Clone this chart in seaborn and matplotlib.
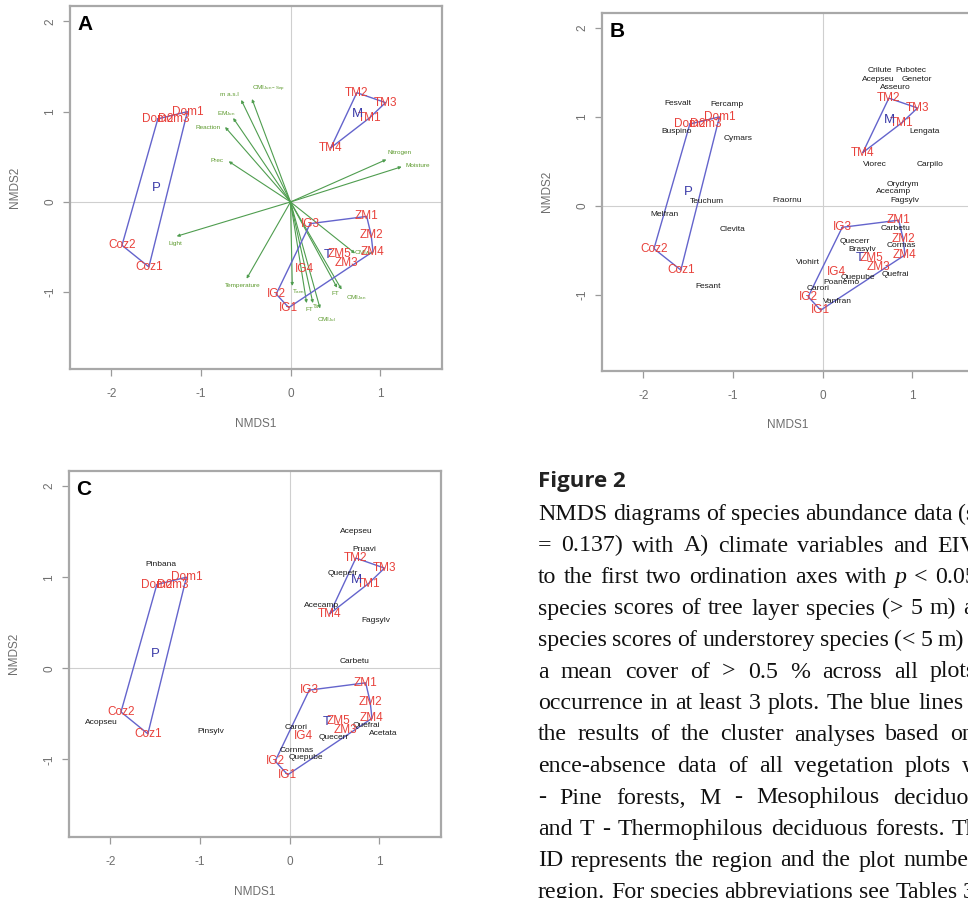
import matplotlib
matplotlib.use("Agg")
import matplotlib.pyplot as plt
import numpy as np
import pandas as pd
import seaborn as sns

# site scores (shared by all three NMDS panels)
site_names = ["Dom1", "Dom2", "Dom3", "Coz1", "Coz2",
              "TM1", "TM2", "TM3", "TM4",
              "ZM1", "ZM2", "ZM3", "ZM4", "ZM5",
              "IG1", "IG2", "IG3", "IG4"]
site_x = [-1.15, -1.48, -1.30, -1.58, -1.88,
          0.88, 0.74, 1.06, 0.45,
          0.85, 0.90, 0.62, 0.92, 0.55,
          -0.02, -0.16, 0.22, 0.15]
site_y = [1.00, 0.92, 0.92, -0.72, -0.48,
          0.93, 1.21, 1.10, 0.60,
          -0.16, -0.37, -0.68, -0.55, -0.58,
          -1.17, -1.02, -0.24, -0.74]

# cluster hulls (vertex order)
hull_P = ["Dom2", "Coz2", "Coz1", "Dom1"]
hull_M = ["TM4", "TM2", "TM3", "TM1"]
hull_T = ["IG3", "ZM1", "ZM2", "ZM4", "IG1", "IG2"]
group_names = ["P", "M", "T"]
group_x = [-1.50, 0.75, 0.42]
group_y = [0.16, 0.97, -0.59]

# panel A: fitted environmental vectors
env_labels = ["m a.s.l", "CMI$_{Jun-Sep}$", "EM$_{Jun}$", "Reaction", "Prec", "Light",
              "Temperature", "Nitrogen", "Moisture", "T$_{ann}$", "FT", "CMI$_{Jan}$",
              "FT", "Ts", "CMI$_{Jul}$", "CMI$_{Apr}$"]
env_x = [-0.55, -0.43, -0.64, -0.73, -0.69, -1.27, -0.49, 1.07, 1.24, 0.02, 0.52, 0.57,
         0.18, 0.25, 0.33, 0.72]
env_y = [1.13, 1.14, 0.93, 0.83, 0.45, -0.38, -0.85, 0.47, 0.39, -0.93, -0.95, -0.97,
         -1.12, -1.12, -1.18, -0.57]
env_lab_x = [-0.68, -0.25, -0.72, -0.92, -0.82, -1.28, -0.53, 1.22, 1.42, 0.09, 0.50, 0.73,
             0.21, 0.29, 0.40, 0.82]
env_lab_y = [1.19, 1.25, 0.98, 0.83, 0.46, -0.46, -0.92, 0.55, 0.40, -0.99, -1.01, -1.06,
             -1.19, -1.16, -1.30, -0.57]

# panel B: tree layer species scores
b_species = ["Crilute", "Pubotec", "Acepseu", "Genetor", "Asseuro", "Lengata", "Viorec",
             "Carpilo", "Orydrym", "Acecamp", "Fagsylv", "Teuchum", "Fraornu", "Fesvalt",
             "Fercamp", "Buspino", "Cymars", "Melfran", "Clevita", "Fesant", "Carbetu",
             "Quecerr", "Brasylv", "Cormas", "Viohirt", "Quepube", "Quefrai", "Poanemo",
             "Carori", "Vanfran"]
b_x = [0.64, 0.99, 0.62, 1.05, 0.81, 1.14, 0.58, 1.20, 0.90, 0.79, 0.92, -1.29, -0.40,
       -1.61, -1.07, -1.63, -0.94, -1.76, -1.00, -1.28, 0.81, 0.36, 0.44, 0.88, -0.16,
       0.40, 0.81, 0.21, -0.05, 0.17]
b_y = [1.52, 1.52, 1.42, 1.42, 1.33, 0.84, 0.47, 0.47, 0.24, 0.16, 0.06, 0.05, 0.06,
       1.15, 1.14, 0.84, 0.76, -0.10, -0.27, -0.90, -0.25, -0.40, -0.49, -0.44, -0.64,
       -0.80, -0.77, -0.86, -0.93, -1.07]

# panel C: understorey species scores
c_species = ["Acepseu", "Pruavi", "Quepetr", "Acecamp", "Fagsylv", "Carbetu", "Pinbana",
             "Acopseu", "Pinsylv", "Carori", "Quecerr", "Quefrai", "Acetata", "Cornmas",
             "Quepube"]
c_x = [0.75, 0.84, 0.59, 0.36, 0.96, 0.73, -1.44, -2.10, -0.88, 0.07, 0.49, 0.86, 1.05,
       0.08, 0.18]
c_y = [1.50, 1.30, 1.04, 0.69, 0.53, 0.07, 1.14, -0.60, -0.69, -0.65, -0.76, -0.63, -0.72,
       -0.90, -0.98]

caption_title = "Figure 2"
caption_lines = [
    "NMDS diagrams of species abundance data (stress",
    "= 0.137) with A) climate variables and EIVs fitted",
    "to the first two ordination axes with p < 0.05, B)",
    "species scores of tree layer species (> 5 m) and C)",
    "species scores of understorey species (< 5 m) with",
    "a mean cover of > 0.5 % across all plots and an",
    "occurrence in at least 3 plots. The blue lines show",
    "the results of the cluster analyses based on pres-",
    "ence-absence data of all vegetation plots with P",
    "- Pine forests, M - Mesophilous deciduous forests",
    "and T - Thermophilous deciduous forests. The plot",
    "ID represents the region and the plot number in the",
    "region. For species abbreviations see Tables 3 and 4.",
]
# word index and pixel x where that word starts (justified text)
caption_anchor_word = [5, 7, 9, 8, 7, 9, 8, 7, 6, 6, 6, 7, 6]
caption_anchor_x = [913, 937, 935, 930, 938, 930, 918, 950, 962, 893, 952, 903, 963]

sns.set_theme(style="white")
plt.rcParams["font.family"] = ["Liberation Sans", "DejaVu Sans"]
plt.rcParams["mathtext.default"] = "regular"

W, H = 968, 898
fig = plt.figure(figsize=(W / 100, H / 100), dpi=100)
axA = fig.add_axes([70 / W, 1 - 369 / H, 372 / W, 363 / H])
axB = fig.add_axes([602 / W, 1 - 370.7 / H, 372 / W, 358 / H])
axC = fig.add_axes([69 / W, 1 - 836.7 / H, 372 / W, 366 / H])

sites = pd.DataFrame({"x": site_x, "y": site_y}, index=site_names)
red = "#e8413b"
hull_col = "#6464cc"
grey = "#6e6e6e"


def base(ax, letter):
    ax.set_xlim(-2.46, 1.69)
    ax.set_ylim(-1.85, 2.17)
    ax.axhline(0, color="#cfcfcf", lw=0.8, zorder=0)
    ax.axvline(0, color="#cfcfcf", lw=0.8, zorder=0)
    ax.set_xticks([-2, -1, 0, 1])
    ax.set_yticks([-1, 0, 1, 2])
    ax.set_xticklabels(["-2", "-1", "0", "1"])
    ax.set_yticklabels(["-1", "0", "1", "2"], rotation=90, va="center")
    ax.tick_params(axis="both", direction="out", length=5, width=0.9, color="#9a9a9a",
                   labelcolor=grey, labelsize=8.5, left=True, bottom=True)
    ax.tick_params(axis="x", pad=9)
    ax.tick_params(axis="y", pad=5)
    for s in ax.spines.values():
        s.set_color("#a8a8a8")
        s.set_linewidth(1.6)
    ax.set_xlabel("NMDS1", color=grey, fontsize=8.5)
    ax.set_ylabel("NMDS2", color=grey, fontsize=8.5)
    ax.xaxis.set_label_coords(0.5, -0.135)
    ax.yaxis.set_label_coords(-0.132, 0.5)
    ax.text(0.02, 0.975, letter, transform=ax.transAxes, fontsize=15, fontweight="bold",
            color="black", va="top", ha="left")


def hulls_and_sites(ax):
    for h in (hull_P, hull_M, hull_T):
        pts = sites.loc[h + h[:1]]
        sns.lineplot(x=pts["x"].values, y=pts["y"].values, sort=False, estimator=None,
                     color=hull_col, lw=1.0, ax=ax, zorder=2)
    for n, x, y in zip(site_names, site_x, site_y):
        ax.text(x, y, n, color=red, fontsize=8.5, ha="center", va="center", zorder=4)
    for n, x, y in zip(group_names, group_x, group_y):
        ax.text(x, y, n, color="#3b3ba8", fontsize=9.5, ha="center", va="center", zorder=4)


def species(ax, names, xs, ys):
    for n, x, y in zip(names, xs, ys):
        ax.text(x, y, n, color="#1a1a1a", fontsize=6, ha="center", va="center", zorder=3)


# A
base(axA, "A")
for lab, x, y, lx, ly in zip(env_labels, env_x, env_y, env_lab_x, env_lab_y):
    axA.annotate("", xy=(x, y), xytext=(0, 0),
                 arrowprops=dict(arrowstyle="-|>", color="#4f9d4f", lw=0.8,
                                 mutation_scale=4, shrinkA=0, shrinkB=0), zorder=1)
    axA.text(lx, ly, lab, color="#5d9a2e", fontsize=4.6, ha="center", va="center", zorder=3)
hulls_and_sites(axA)

# B
base(axB, "B")
hulls_and_sites(axB)
species(axB, b_species, b_x, b_y)

# C
base(axC, "C")
hulls_and_sites(axC)
species(axC, c_species, c_x, c_y)

# caption
fig.text(538 / W, 1 - 486.7 / H, caption_title, fontsize=16, fontweight="bold",
         family=["Open Sans", "DejaVu Sans"], color="#222222", va="baseline", ha="left")

r = fig.canvas.get_renderer()
X0 = 538
for i, (line, k, xk) in enumerate(zip(caption_lines, caption_anchor_word, caption_anchor_x)):
    yb = 520 + 31.5 * i
    words = line.split(" ")
    texts = []
    for w in words:
        t = fig.text(0, 1 - yb / H, w, fontsize=17.2, family=["Liberation Serif", "DejaVu Serif"],
                     fontstyle="italic" if w == "p" else "normal",
                     color="#111111", va="baseline", ha="left")
        texts.append(t)
    widths = [t.get_window_extent(r).width for t in texts]
    gap = (xk - X0 - sum(widths[:k])) / k
    x = X0
    for t, wd in zip(texts, widths):
        if x >= W:
            t.remove()
        else:
            t.set_x(x / W)
        x += wd + gap

fig.savefig("out.png", dpi=100)
